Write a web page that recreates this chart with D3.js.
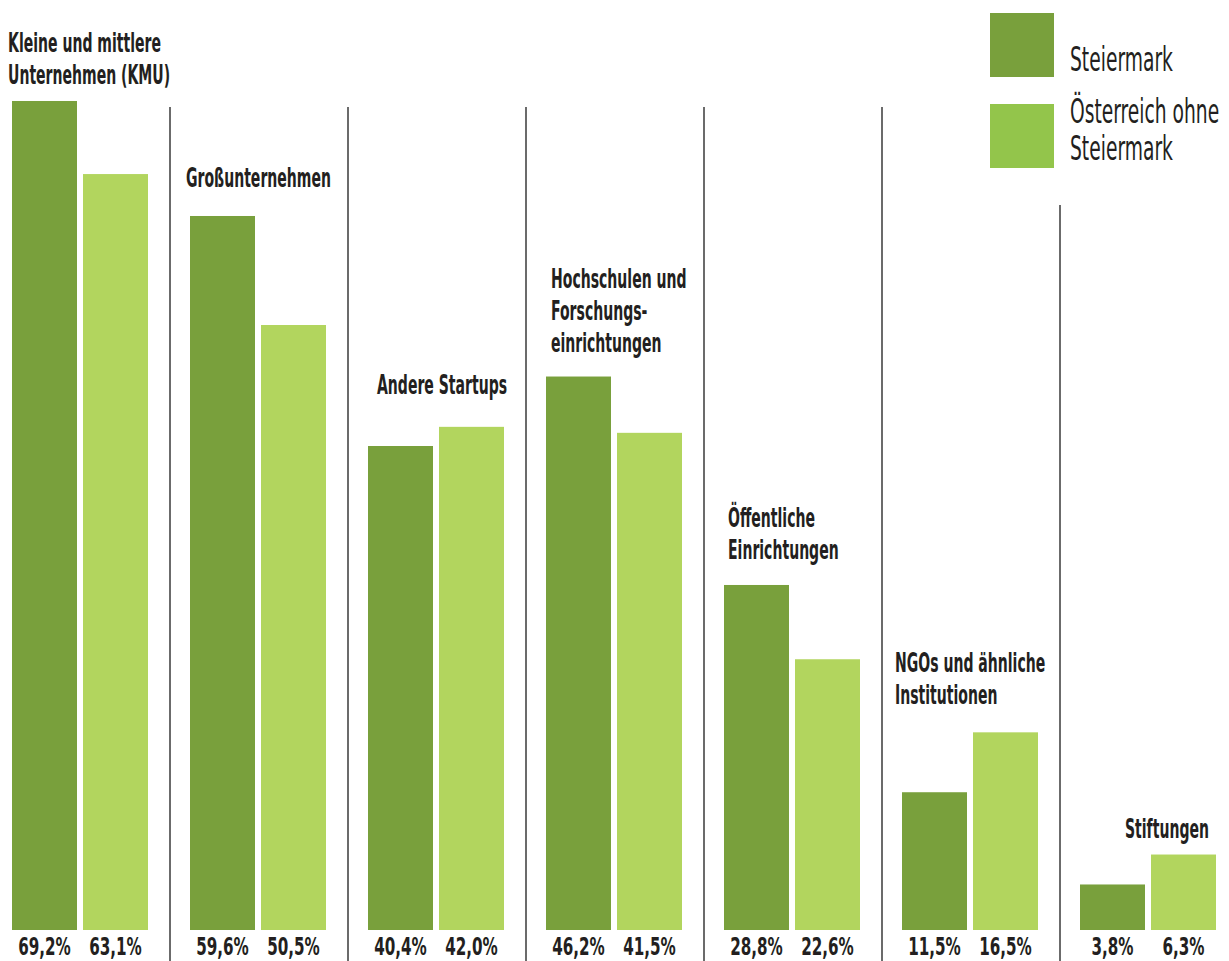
<!DOCTYPE html>
<html><head><meta charset="utf-8">
<script src="https://cdn.jsdelivr.net/npm/d3@7"></script>
<style>
body{margin:0;background:#fff;}
svg{display:block;}
text{font-family:"DejaVu Sans Condensed","DejaVu Sans",sans-serif;fill:#231f20;}
</style></head>
<body>
<script>
// ---- data ----
const categories = ["KMU","Groß","Startups","Hochschulen","Öffentlich","NGOs","Stiftungen"];
const categoryLabels = [
  ["Kleine und mittlere","Unternehmen (KMU)"],
  ["Großunternehmen"],
  ["Andere Startups"],
  ["Hochschulen und","Forschungs-","einrichtungen"],
  ["Öffentliche","Einrichtungen"],
  ["NGOs und ähnliche","Institutionen"],
  ["Stiftungen"]
];
const series = ["Steiermark","Österreich ohne Steiermark"];
const legendLabels = [["Steiermark"],["Österreich ohne","Steiermark"]];
const steiermark = [69.2,59.6,40.4,46.2,28.8,11.5,3.8];
const oesterreich = [63.1,50.5,42.0,41.5,22.6,16.5,6.3];
const fmt = v => d3.format(".1f")(v).replace(".",",") + "%";

// ---- layout (positions, not data) ----
const W = 1229, H = 961;
const labelX = [8,186,377,551,728,895,1125];
const labelY = [52,187,394,288,527,672,838];
const barColors = ["#79a03c","#b2d55e"];
const legendColors = ["#79a03c","#93c54b"];

const svg = d3.select("body").append("svg").attr("width",W).attr("height",H);

const x0 = d3.scaleBand().domain(categories).range([-8, -8 + 178*7]);
const x1 = d3.scaleBand().domain(series).range([20, 156]).paddingInner(6/71);
const y = d3.scaleLinear().domain([0, 70]).range([930, 930 - 70*11.98]);

const rows = categories.map((c,i)=>({cat:c, vals:[steiermark[i], oesterreich[i]]}));

// dividers
svg.selectAll("line.div").data(categories.slice(1)).join("line")
  .attr("x1", d=>x0(d)).attr("x2", d=>x0(d))
  .attr("y1", (d,i)=> i===categories.length-2 ? 205 : 107)
  .attr("y2", H)
  .attr("stroke","#3a3a3a").attr("stroke-width",1.5);

// bars
const g = svg.selectAll("g.grp").data(rows).join("g")
  .attr("transform", d=>`translate(${x0(d.cat)},0)`);
g.selectAll("rect").data(d=>d.vals.map((v,j)=>({s:series[j], v, j}))).join("rect")
  .attr("x", d=>x1(d.s)).attr("width", x1.bandwidth())
  .attr("y", d=>y(d.v)).attr("height", d=>y(0)-y(d.v))
  .attr("fill", d=>barColors[d.j]);

// value labels
g.selectAll("text.val").data(d=>d.vals.map((v,j)=>({s:series[j], v}))).join("text")
  .attr("class","val")
  .attr("transform", d=>`translate(${x1(d.s)+x1.bandwidth()/2},955) scale(0.675,1)`)
  .attr("text-anchor","middle")
  .attr("font-size",25).attr("font-weight","bold")
  .text(d=>fmt(d.v));

// category labels
categoryLabels.forEach((lines,i)=>{
  lines.forEach((ln,k)=>{
    svg.append("text")
      .attr("transform",`translate(${labelX[i]},${labelY[i]+k*32}) scale(0.6,1)`)
      .attr("font-size",26).attr("font-weight","bold")
      .text(ln);
  });
});

// legend
const legendY = [13,104];
legendLabels.forEach((lines,i)=>{
  svg.append("rect").attr("x",990).attr("y",legendY[i]).attr("width",64).attr("height",64)
    .attr("fill",legendColors[i]);
  const base = i===0 ? 71 : 123;
  lines.forEach((ln,k)=>{
    svg.append("text")
      .attr("transform",`translate(1070,${base+k*37}) scale(0.63,1)`)
      .attr("font-size",33)
      .text(ln);
  });
});
</script>
</body></html>
